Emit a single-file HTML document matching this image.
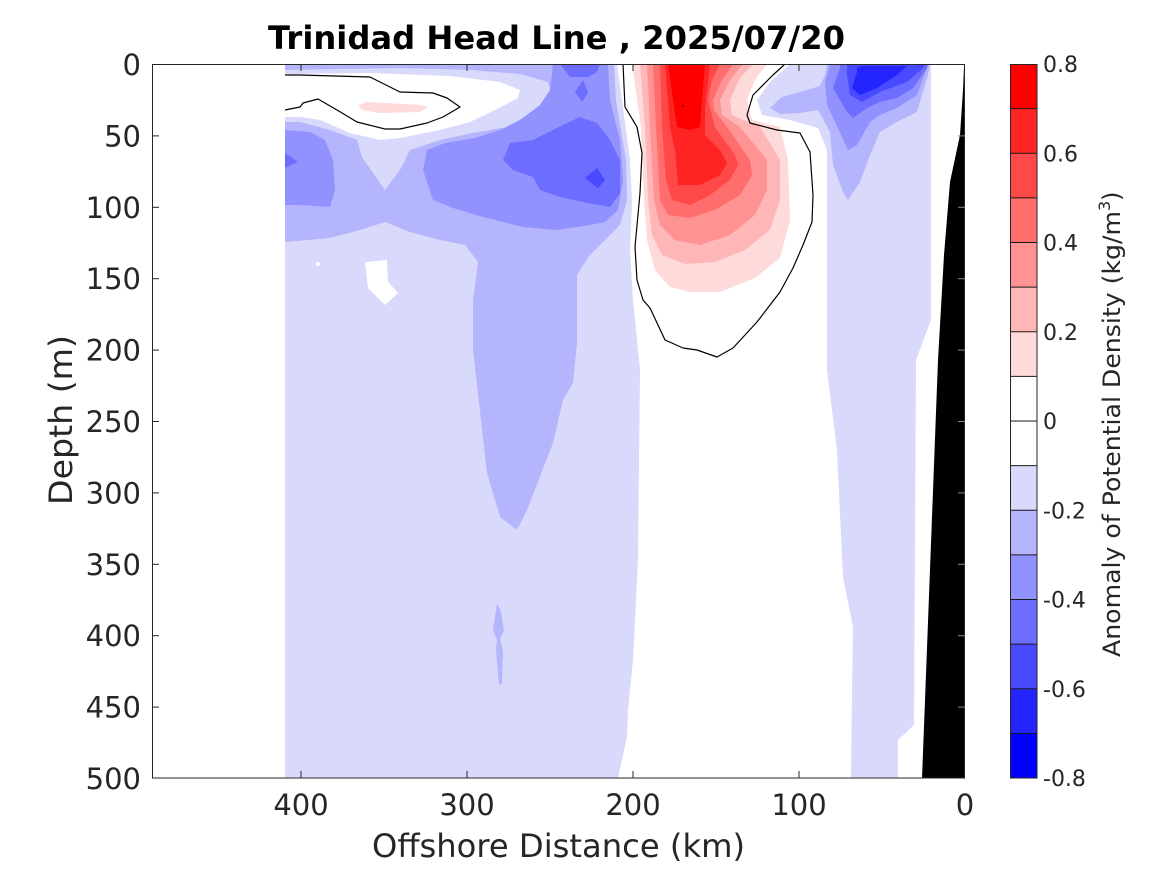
<!DOCTYPE html>
<html>
<head>
<meta charset="utf-8">
<style>
html,body{margin:0;padding:0;background:#fff;}
svg{display:block;}
text{font-family:"DejaVu Sans","Liberation Sans",sans-serif;fill:#262626;}
</style>
</head>
<body>
<svg width="1167" height="875" viewBox="0 0 1167 875" xmlns="http://www.w3.org/2000/svg">
<rect x="0" y="0" width="1167" height="875" fill="#fff"/>
<defs>
<clipPath id="pc"><rect x="152" y="64" width="813" height="714"/></clipPath>
</defs>
<g clip-path="url(#pc)">
<!-- L1 base -->
<polygon fill="#d9d9fc" points="285,64 931,64 931,320 916,360 914,725 898,740 898,778 285,778"/>
<!-- L2 upper-left big -->
<polygon fill="#b5b5fd" points="285,64 614,64 616,100 626,160 627,200 620,225 605,240 590,255 577,275 577,300 577,343 573,383 563,400 553,443 527,510 517,530 500,517 487,473 473,350 473,300 478,262 465,245 440,240 410,232 385,222 360,230 330,238 285,242"/>
<!-- L2 sliver -->
<polygon fill="#b5b5fd" points="497,603 501,612 504,630 500,640 503,650 502,683 499,685 496,650 497,640 493,630"/>
<!-- white spots -->
<polygon fill="#fff" points="365,262 387,260 388,282 398,293 385,305 368,288"/>
<circle cx="318" cy="264" r="2" fill="#fff"/>
<!-- L1 wedge -->
<polygon fill="#d9d9fc" points="285,70 400,68 470,70 520,74 548,82 552,95 540,108 507,127 473,133 440,140 410,150 400,170 385,190 362,157 357,140 330,130 300,122 285,122"/>
<!-- white top-left -->
<polygon fill="#fff" points="285,74 370,73 450,76 500,82 520,90 518,98 495,110 470,122 440,130 400,138 380,140 350,133 320,120 300,117 285,117"/>
<!-- pink patch -->
<polygon fill="#ffdada" points="358,105 367,102 420,105 428,107 420,112 380,113 362,110"/>
<!-- left L3 patch -->
<polygon fill="#9292fe" points="285,130 310,132 325,140 333,160 335,190 330,207 300,205 285,205"/>
<polygon fill="#6d6dff" points="285,153 298,162 285,168"/>
<!-- middle L3 -->
<polygon fill="#9292fe" points="427,150 445,143 475,138 500,130 520,120 540,105 550,90 553,64 608,64 610,100 620,140 623,180 618,210 605,222 590,225 557,230 523,227 483,217 453,208 433,200 423,170"/>
<!-- middle L4 -->
<polygon fill="#6d6dff" points="503,160 510,143 533,140 567,123 580,117 597,123 610,140 620,160 620,193 610,207 587,203 560,197 540,190 533,177 513,170"/>
<polygon fill="#4949ff" points="585,178 597,168 605,180 598,188"/>
<polygon fill="#6d6dff" points="575,92 583,80 588,93 582,102"/>
<polygon fill="#6d6dff" points="560,64 600,64 597,72 588,77 570,77"/>
<!-- white middle column -->
<polygon fill="#fff" points="617,64 622,100 630,160 632,200 630,250 633,300 640,370 639,460 638,560 633,660 628,710 627,737 618,778 851,778 852,693 853,627 843,577 837,450 827,370 827,150 818,128 790,120 762,115 757,100 770,82 790,64"/>
<!-- red layers -->
<polygon fill="#ffdada" points="632,64 641,127 644,200 647,240 655,270 670,287 690,292 720,292 755,278 780,258 790,220 788,160 780,127 752,120 747,100 755,80 767,64"/>
<polygon fill="#ffb6b6" points="640,64 645,127 648,200 652,235 662,255 685,264 715,262 745,250 770,230 780,200 780,160 760,127 732,115 730,100 740,78 753,64"/>
<polygon fill="#ff9292" points="647,64 650,127 654,200 660,225 675,240 700,245 730,235 755,215 767,190 767,160 740,127 722,115 720,100 730,80 743,64"/>
<polygon fill="#ff6d6d" points="653,64 656,127 660,200 668,215 690,218 715,210 740,195 752,175 750,160 727,127 714,110 713,100 722,80 733,64"/>
<polygon fill="#ff4949" points="660,64 662,127 666,180 672,200 690,205 710,195 730,180 738,165 735,155 715,127 708,100 712,80 720,64"/>
<polygon fill="#ff2424" points="665,64 670,127 675,150 678,185 700,185 720,175 727,163 720,150 705,135 705,110 710,64"/>
<polygon fill="#ff0000" points="668,64 677,127 690,130 700,127 702,100 705,64"/>
<!-- right-top blue -->
<polygon fill="#b5b5fd" points="827,64 930,64 928,75 917,112 897,122 880,132 870,155 860,182 848,200 843,192 833,165 830,132 818,110 800,113 780,114 770,108 782,97 800,92 820,86 825,75"/>
<polygon fill="#9292fe" points="830,64 927,64 927,68 917,95 897,108 880,115 870,122 857,145 848,150 835,122 827,105 825,82"/>
<polygon fill="#6d6dff" points="840,64 928,64 927,68 913,88 897,98 880,102 867,108 853,118 847,112 833,88 840,68"/>
<polygon fill="#4949ff" points="847,64 925,64 923,68 907,82 880,92 862,102 850,95 847,75"/>
<polygon fill="#2424ff" points="857,68 863,66 907,66 897,75 877,88 860,95 852,88 857,72"/>
<!-- black wedge -->
<polygon fill="#000" points="964,66 966,66 966,779 922,779 938,360 944,255 950,182 960,135 963,90"/>
<!-- contours -->
<polyline fill="none" stroke="#000" stroke-width="1.2" stroke-linejoin="round" points="285,75 300,75 370,77 380,82 400,92 433,93 447,98 460,107 443,117 427,123 400,129 385,129 357,122 337,110 318,99 303,103 300,107 285,110"/>
<polyline fill="none" stroke="#000" stroke-width="1.2" stroke-linejoin="round" points="623,64 625,107 637,127 642,153 640,193 635,247 637,280 643,300 650,308 665,340 683,348 697,350 717,357 733,348 757,322 780,292 793,268 803,245 812,222 813,195 810,152 800,133 777,130 750,123 747,115 753,95 773,75 785,64"/>
<circle cx="683" cy="106" r="1" fill="#800"/>
</g>
<!-- axes box -->
<rect x="152.5" y="64.5" width="812" height="713.5" fill="none" stroke="#262626" stroke-width="1"/>
<g stroke="#262626" stroke-width="1">
<line x1="152" y1="135.9" x2="159" y2="135.9"/>
<line x1="152" y1="207.3" x2="159" y2="207.3"/>
<line x1="152" y1="278.7" x2="159" y2="278.7"/>
<line x1="152" y1="350.1" x2="159" y2="350.1"/>
<line x1="152" y1="421.5" x2="159" y2="421.5"/>
<line x1="152" y1="492.9" x2="159" y2="492.9"/>
<line x1="152" y1="564.3" x2="159" y2="564.3"/>
<line x1="152" y1="635.7" x2="159" y2="635.7"/>
<line x1="152" y1="707.1" x2="159" y2="707.1"/>
<line x1="301" y1="778" x2="301" y2="771"/>
<line x1="467" y1="778" x2="467" y2="771"/>
<line x1="633" y1="778" x2="633" y2="771"/>
<line x1="799" y1="778" x2="799" y2="771"/>
<line x1="301" y1="64" x2="301" y2="71"/>
<line x1="467" y1="64" x2="467" y2="71"/>
<line x1="633" y1="64" x2="633" y2="71"/>
<line x1="799" y1="64" x2="799" y2="71"/>
</g>
<g stroke="#888" stroke-width="1">
<line x1="958" y1="135.9" x2="965" y2="135.9"/>
<line x1="958" y1="207.3" x2="965" y2="207.3"/>
<line x1="958" y1="278.7" x2="965" y2="278.7"/>
<line x1="958" y1="350.1" x2="965" y2="350.1"/>
<line x1="958" y1="421.5" x2="965" y2="421.5"/>
<line x1="958" y1="492.9" x2="965" y2="492.9"/>
<line x1="958" y1="564.3" x2="965" y2="564.3"/>
<line x1="958" y1="635.7" x2="965" y2="635.7"/>
<line x1="958" y1="707.1" x2="965" y2="707.1"/>
</g>
<!-- y tick labels -->
<g font-size="29" text-anchor="end">
<text x="141" y="75">0</text>
<text x="141" y="146.4">50</text>
<text x="141" y="217.8">100</text>
<text x="141" y="289.2">150</text>
<text x="141" y="360.6">200</text>
<text x="141" y="432">250</text>
<text x="141" y="503.4">300</text>
<text x="141" y="574.8">350</text>
<text x="141" y="646.2">400</text>
<text x="141" y="717.6">450</text>
<text x="141" y="789">500</text>
</g>
<!-- x tick labels -->
<g font-size="29" text-anchor="middle">
<text x="301" y="815">400</text>
<text x="467" y="815">300</text>
<text x="633" y="815">200</text>
<text x="799" y="815">100</text>
<text x="965" y="815">0</text>
</g>
<!-- title -->
<text x="268" y="49" font-size="32" font-weight="bold" fill="#000" textLength="577" lengthAdjust="spacingAndGlyphs" style="fill:#000">Trinidad Head Line , 2025/07/20</text>
<!-- axis labels -->
<text x="372" y="857" font-size="32" textLength="373" lengthAdjust="spacingAndGlyphs">Offshore Distance (km)</text>
<text transform="translate(72,505) rotate(-90)" x="0" y="0" font-size="32" textLength="170" lengthAdjust="spacingAndGlyphs">Depth (m)</text>
<!-- colorbar -->
<g>
<rect x="1010" y="64" width="27" height="44.625" fill="#ff0000"/>
<rect x="1010" y="108.625" width="27" height="44.625" fill="#ff2424"/>
<rect x="1010" y="153.25" width="27" height="44.625" fill="#ff4949"/>
<rect x="1010" y="197.875" width="27" height="44.625" fill="#ff6d6d"/>
<rect x="1010" y="242.5" width="27" height="44.625" fill="#ff9292"/>
<rect x="1010" y="287.125" width="27" height="44.625" fill="#ffb6b6"/>
<rect x="1010" y="331.75" width="27" height="44.625" fill="#ffdada"/>
<rect x="1010" y="376.375" width="27" height="44.625" fill="#ffffff"/>
<rect x="1010" y="421" width="27" height="44.625" fill="#ffffff"/>
<rect x="1010" y="465.625" width="27" height="44.625" fill="#d9d9fc"/>
<rect x="1010" y="510.25" width="27" height="44.625" fill="#b5b5fd"/>
<rect x="1010" y="554.875" width="27" height="44.625" fill="#9292fe"/>
<rect x="1010" y="599.5" width="27" height="44.625" fill="#6d6dff"/>
<rect x="1010" y="644.125" width="27" height="44.625" fill="#4949ff"/>
<rect x="1010" y="688.75" width="27" height="44.625" fill="#2424ff"/>
<rect x="1010" y="733.375" width="27" height="44.625" fill="#0000ff"/>
<g stroke="#1a1a1a" stroke-width="1">
<line x1="1010" y1="108.6" x2="1037" y2="108.6"/>
<line x1="1010" y1="153.3" x2="1037" y2="153.3"/>
<line x1="1010" y1="197.9" x2="1037" y2="197.9"/>
<line x1="1010" y1="242.5" x2="1037" y2="242.5"/>
<line x1="1010" y1="287.1" x2="1037" y2="287.1"/>
<line x1="1010" y1="331.8" x2="1037" y2="331.8"/>
<line x1="1010" y1="376.4" x2="1037" y2="376.4"/>
<line x1="1010" y1="421" x2="1037" y2="421"/>
<line x1="1010" y1="465.6" x2="1037" y2="465.6"/>
<line x1="1010" y1="510.3" x2="1037" y2="510.3"/>
<line x1="1010" y1="554.9" x2="1037" y2="554.9"/>
<line x1="1010" y1="599.5" x2="1037" y2="599.5"/>
<line x1="1010" y1="644.1" x2="1037" y2="644.1"/>
<line x1="1010" y1="688.8" x2="1037" y2="688.8"/>
<line x1="1010" y1="733.4" x2="1037" y2="733.4"/>
</g>
<rect x="1010.5" y="64.5" width="26.5" height="713.5" fill="none" stroke="#262626" stroke-width="1"/>
</g>
<g font-size="22">
<text x="1043" y="72">0.8</text>
<text x="1043" y="161.3">0.6</text>
<text x="1043" y="250.5">0.4</text>
<text x="1043" y="339.8">0.2</text>
<text x="1043" y="429">0</text>
<text x="1043" y="518.3">-0.2</text>
<text x="1043" y="607.5">-0.4</text>
<text x="1043" y="696.8">-0.6</text>
<text x="1043" y="786">-0.8</text>
</g>
<text transform="translate(1120,657) rotate(-90)" x="0" y="0" font-size="24"><tspan textLength="446" lengthAdjust="spacingAndGlyphs">Anomaly of Potential Density (kg/m</tspan><tspan font-size="16" dy="-10">3</tspan><tspan dy="10">)</tspan></text>
</svg>
</body>
</html>
